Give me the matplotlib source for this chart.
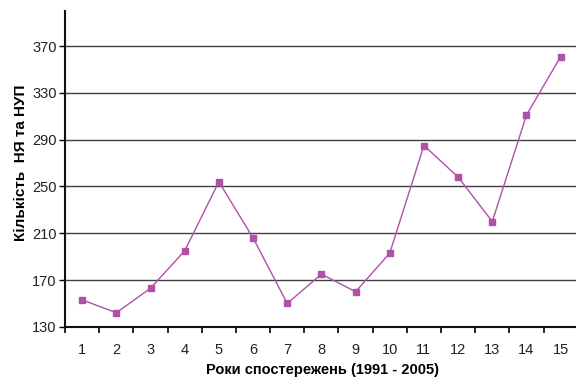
import matplotlib
matplotlib.use("Agg")
import matplotlib.pyplot as plt
from matplotlib.ticker import FixedLocator, NullFormatter

# observation years (1..15 = 1991..2005) and counts
years = list(range(1, 16))
counts = [153, 142, 163, 195, 254, 206, 150, 175, 160, 193, 285, 258, 220, 311, 361]
y_ticks = [130, 170, 210, 250, 290, 330, 370]

plt.rcParams["font.family"] = ["Liberation Sans", "DejaVu Sans"]

fig = plt.figure(figsize=(5.76, 3.8), dpi=100)
ax = fig.add_axes([0.113, 0.140, 0.890, 0.831])

ax.plot(years, counts, color="#B050A8", linewidth=1.0,
        marker="s", markersize=5.0, markerfacecolor="#B050A8",
        markeredgecolor="#B050A8")

ax.set_xlim(0.5, 15.5)
ax.set_ylim(130, 400)
ax.set_yticks(y_ticks)
ax.yaxis.grid(True, color="#404040", linewidth=1.0)
ax.set_axisbelow(True)

ax.set_xticks(years)
ax.xaxis.set_minor_locator(FixedLocator([x + 0.5 for x in range(0, 16)]))
ax.xaxis.set_minor_formatter(NullFormatter())
ax.tick_params(axis="x", which="major", length=0, pad=12, labelsize=10.5,
               labelcolor="#222222")
ax.tick_params(axis="x", which="minor", length=4, width=1.2, direction="out")
ax.tick_params(axis="y", length=4, width=1.0, labelsize=10.5, pad=2,
               labelcolor="#222222")

for side in ("top", "right"):
    ax.spines[side].set_visible(False)
for side in ("left", "bottom"):
    ax.spines[side].set_linewidth(1.5)
    ax.spines[side].set_color("#111111")

ax.set_xlabel("Роки спостережень (1991 - 2005)", fontsize=10.5,
              fontweight="bold")
ax.xaxis.set_label_coords(0.502, -0.116)
ax.set_ylabel("Кількість  НЯ та НУП", fontsize=11, fontweight="bold")
ax.yaxis.set_label_coords(-0.072, 0.52)

fig.savefig("out.png", dpi=100)
